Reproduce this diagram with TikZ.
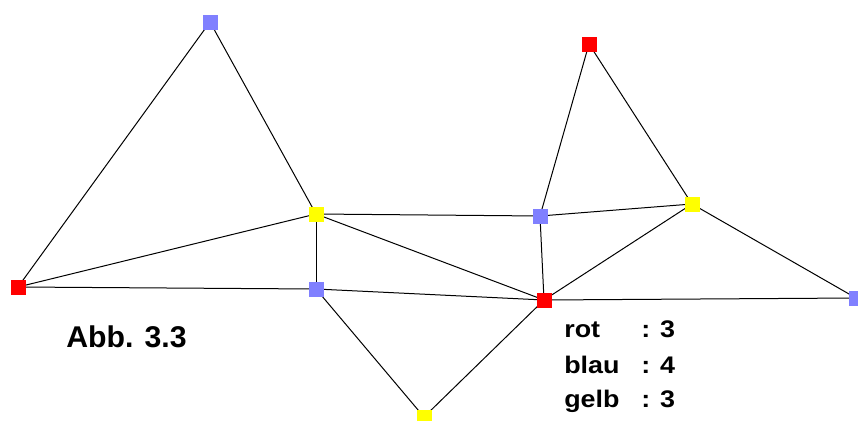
\documentclass[tikz,border=0pt]{standalone}
\usepackage{fontspec}
\setmainfont{Liberation Sans}
\usetikzlibrary{backgrounds}
\definecolor{vblue}{HTML}{8080FF}
\definecolor{vred}{HTML}{FF0000}
\definecolor{vyellow}{HTML}{FFFF00}
\tikzset{
  x=0.75pt, y=-0.75pt,
  vtx/.style={rectangle, inner sep=0pt, minimum size=11.25pt},
  rv/.style={vtx, fill=vred},
  bv/.style={vtx, fill=vblue},
  yv/.style={vtx, fill=vyellow},
  edge/.style={draw=black, line width=0.75pt},
  lbl/.style={anchor=base west, inner sep=0pt, xscale=1.12,
              font=\bfseries\fontsize{18}{21}\selectfont},
}
\begin{document}
\begin{tikzpicture}
\useasboundingbox (0,0) rectangle (858,421);
% vertices
\node[bv] (A) at (210,22) {};
\node[yv] (B) at (316,214) {};
\node[rv] (C) at (18,287) {};
\node[bv] (D) at (316,289) {};
\node[yv] (E) at (424,417) {};
\node[rv] (F) at (544,300) {};
\node[bv] (G) at (540,216) {};
\node[rv] (H) at (589,44) {};
\node[yv] (I) at (692,204) {};
\node[bv] (J) at (856,298) {};
% edges, kept behind the vertices
\begin{scope}[on background layer]
\foreach \u/\v in {A/B, A/C, C/B, C/D, D/F, B/D, B/G, B/F, D/E, E/F,
                   G/F, G/H, G/I, H/I, I/F, I/J, F/J}
  \draw[edge] (\u.center) -- (\v.center);
\end{scope}
% captions
\node[lbl, xscale=0.9, font=\bfseries\fontsize{22.5}{26}\selectfont] (cap) at (66,347) {Abb. 3.3};
\node[lbl] (r1) at (564,337) {rot};
\node[lbl] (r2) at (564,373) {blau};
\node[lbl] (r3) at (564,407) {gelb};
\node[lbl] (c1) at (641,337) {: 3};
\node[lbl] (c2) at (641,373) {: 4};
\node[lbl] (c3) at (641,407) {: 3};
\end{tikzpicture}
\end{document}
